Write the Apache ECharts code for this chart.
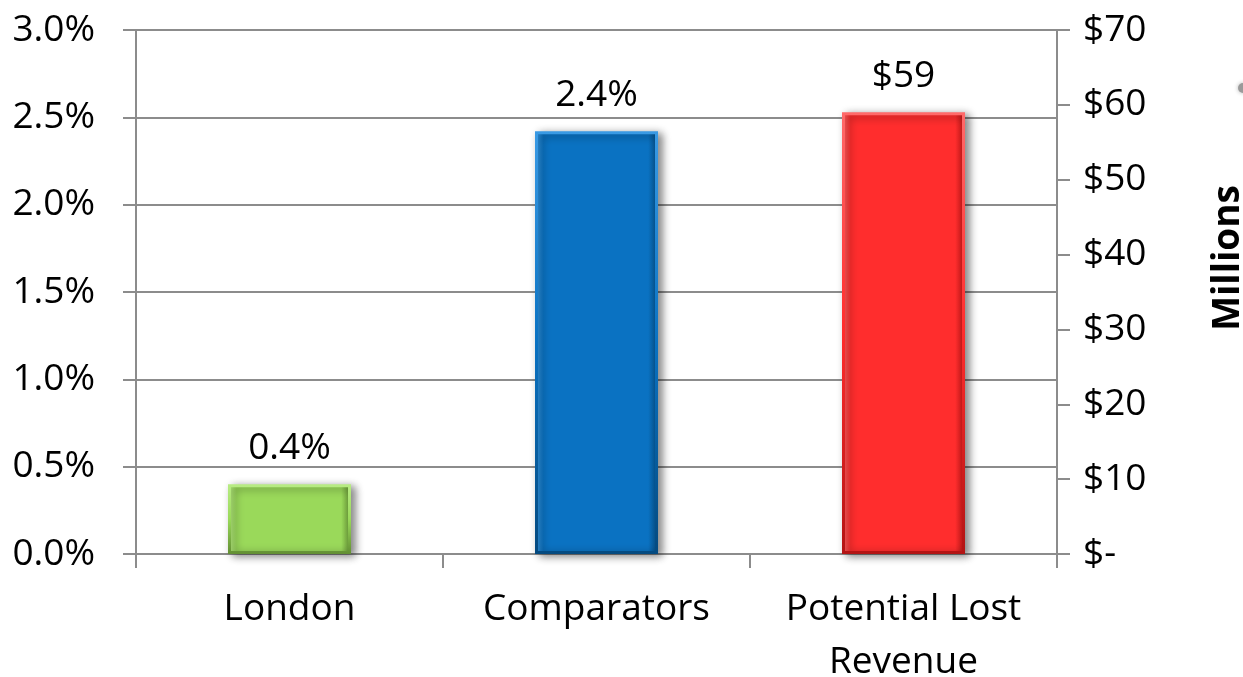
<!DOCTYPE html>
<html>
<head>
<meta charset="utf-8">
<script src="https://cdn.jsdelivr.net/npm/echarts@6/dist/echarts.min.js"></script>
<style>html,body{margin:0;padding:0;background:#fff}#c{width:1243px;height:677px}</style>
</head>
<body>
<div id="c"></div>
<script>
var categories = ['London', 'Comparators', 'Potential Lost\nRevenue'];
var pctValues = [0.4, 2.42, null];
var pctLabels = ['0.4%', '2.4%', ''];
var dollarValues = [null, null, 59];
var dollarLabels = ['', '', '$59'];
var leftTicks = {min: 0, max: 3, interval: 0.5};
var rightTicks = {min: 0, max: 70, interval: 10};
var barColors = [
  ['#b8ec84', '#9ad95a', '#628f33'],
  ['#3a9ae4', '#0a72c2', '#044a80'],
  ['#ff6a6a', '#ff2d2d', '#b31414']
];
var FONT = '"Open Sans", "Liberation Sans", sans-serif';
var FS = 37;

function styleFor(i) {
  var c = barColors[i];
  return {
    color: {
      type: 'linear', x: 0, y: 0, x2: 1, y2: 0,
      colorStops: [
        {offset: 0, color: c[0]},
        {offset: 0.07, color: c[1]},
        {offset: 0.92, color: c[1]},
        {offset: 1, color: c[2]}
      ]
    },
    borderColor: {
      type: 'linear', x: 0, y: 0, x2: 0, y2: 1,
      colorStops: [
        {offset: 0, color: c[0]},
        {offset: 0.5, color: c[1]},
        {offset: 1, color: c[2]}
      ]
    },
    borderWidth: 3,
    shadowColor: 'rgba(0,0,0,0.45)',
    shadowBlur: 8,
    shadowOffsetX: 4,
    shadowOffsetY: 2
  };
}

var chart = echarts.init(document.getElementById('c'));
chart.setOption({
  animation: false,
  grid: {left: 136, right: 186, top: 30, bottom: 123, outerBoundsMode: 'none', containLabel: false},
  xAxis: {
    type: 'category',
    data: categories,
    axisLine: {lineStyle: {color: '#8c8c8c', width: 2}},
    axisTick: {show: true, length: 14, lineStyle: {color: '#8c8c8c', width: 2}},
    axisLabel: {color: '#000', fontFamily: FONT, fontSize: FS, margin: 29, lineHeight: 53}
  },
  yAxis: [
    {
      type: 'value', min: leftTicks.min, max: leftTicks.max, interval: leftTicks.interval,
      position: 'left',
      axisLine: {show: true, lineStyle: {color: '#8c8c8c', width: 2}},
      axisTick: {show: true, length: 13, lineStyle: {color: '#8c8c8c', width: 2}},
      splitLine: {show: true, lineStyle: {color: '#8c8c8c', width: 2}},
      axisLabel: {color: '#000', fontFamily: FONT, fontSize: FS, margin: 41,
        formatter: function (v) { return v.toFixed(1) + '%'; }}
    },
    {
      type: 'value', min: rightTicks.min, max: rightTicks.max, interval: rightTicks.interval,
      position: 'right',
      axisLine: {show: true, lineStyle: {color: '#8c8c8c', width: 2}},
      axisTick: {show: true, length: 13, lineStyle: {color: '#8c8c8c', width: 2}},
      splitLine: {show: false},
      axisLabel: {color: '#000', fontFamily: FONT, fontSize: FS, margin: 26,
        formatter: function (v) { return v === 0 ? '$-' : '$' + v; }}
    }
  ],
  series: [
    {
      type: 'bar', yAxisIndex: 0, barWidth: 123, barGap: '-100%',
      data: pctValues.map(function (v, i) { return {value: v, itemStyle: styleFor(i)}; }),
      label: {show: true, position: 'top', distance: 17, color: '#000', fontFamily: FONT, fontSize: FS,
        formatter: function (p) { return pctLabels[p.dataIndex]; }}
    },
    {
      type: 'bar', yAxisIndex: 1, barWidth: 123, barGap: '-100%',
      data: dollarValues.map(function (v, i) { return {value: v, itemStyle: styleFor(i)}; }),
      label: {show: true, position: 'top', distance: 17, color: '#000', fontFamily: FONT, fontSize: FS,
        formatter: function (p) { return dollarLabels[p.dataIndex]; }}
    }
  ],
  graphic: [
    {
      type: 'text', x: 1228, y: 258, rotation: Math.PI / 2,
      style: {text: 'Millions', fill: '#000', font: 'bold 37px ' + FONT, align: 'center', verticalAlign: 'middle'}
    },
    {
      type: 'circle', shape: {cx: 1243, cy: 88, r: 5},
      style: {fill: '#9a9a9a', shadowColor: 'rgba(0,0,0,0.3)', shadowBlur: 4}
    }
  ]
});
</script>
</body>
</html>
